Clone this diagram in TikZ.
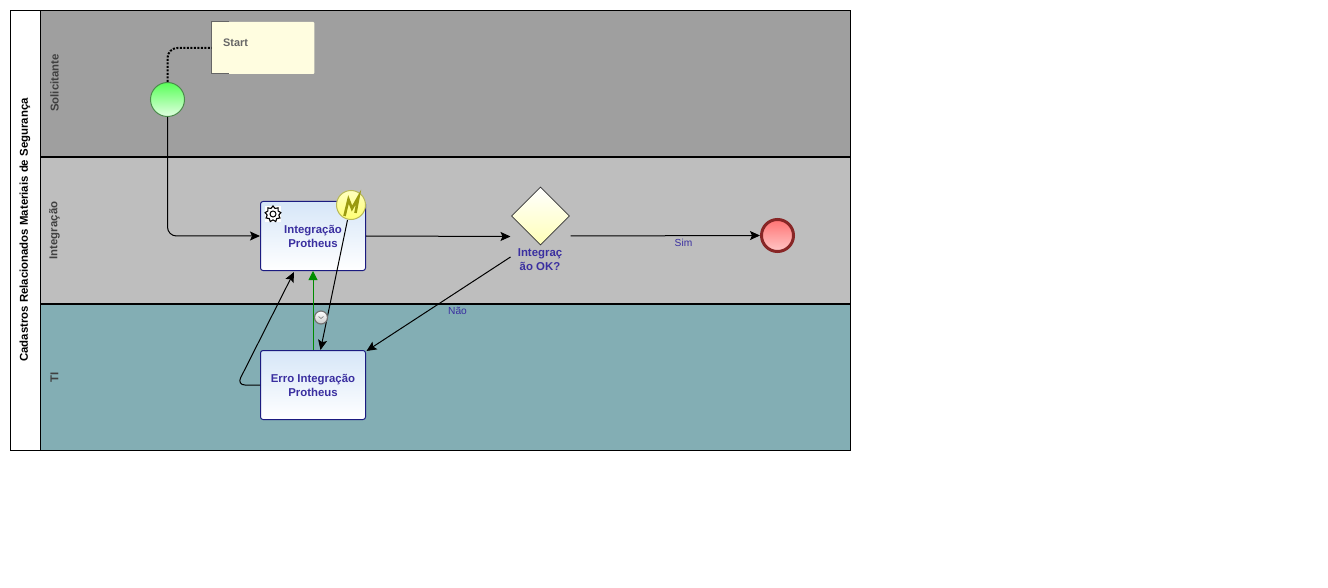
\documentclass[tikz,border=0pt]{standalone}
\usepackage{fontspec}
\setmainfont{Liberation Sans}
\usetikzlibrary{arrows.meta,shapes.geometric}
\definecolor{laneA}{HTML}{9F9F9F}
\definecolor{laneB}{HTML}{BEBEBE}
\definecolor{laneC}{HTML}{83AEB4}
\definecolor{taskborder}{HTML}{1B1B80}
\definecolor{tasktop}{HTML}{D6E6F8}
\definecolor{tasktxt}{HTML}{3A2FA0}
\definecolor{boltcol}{HTML}{9A9A10}
\newcommand{\dropline}[1]{\raisebox{-1pt}{#1}}
\tikzset{
  x=1pt,y=-1pt,
  lanebox/.style={draw=black,line width=.9pt},
  lanelabel/.style={rotate=90,font=\bfseries\fontsize{11.4}{13}\selectfont,text=#1},
  task/.style={draw=taskborder,line width=1pt,rounded corners=2.5pt,minimum width=105pt,minimum height=69pt,top color=tasktop,bottom color=white,inner sep=0pt,align=center,font=\bfseries\fontsize{11.4}{14}\selectfont,text=tasktxt},
  flow/.style={draw=black,line width=1pt,-{Stealth[length=10pt,width=9pt,inset=2pt]},rounded corners=9pt},
  edgelabel/.style={font=\fontsize{10.2}{12}\selectfont,text=tasktxt,inner sep=0pt},
}
\begin{document}
\begin{tikzpicture}
\useasboundingbox (0,0) rectangle (1328,588);
\fill[white] (0,0) rectangle (1328,588);
% lanes
\fill[laneA] (40.5,10.5) rectangle (850.5,157);
\fill[laneB] (40.5,157) rectangle (850.5,304);
\fill[laneC] (40.5,304) rectangle (850.5,450.5);
\draw[lanebox] (10.5,10.5) rectangle (850.5,450.5);
\draw[lanebox] (40.5,10.5) -- (40.5,450.5);
\draw[black,line width=2pt] (40.5,157) -- (850.5,157);
\draw[black,line width=2pt] (40.5,304) -- (850.5,304);
\node[lanelabel=black] (pool) at (25,230) {Cadastros Relacionados Materiais de Segurança};
\node[lanelabel=black!75] (l1) at (54.5,83) {Solicitante};
\node[lanelabel=black!75] (l2) at (54.5,230.5) {Integração};
\node[lanelabel=black!75] (l3) at (54.5,377) {TI};
% annotation
\node[fill=yellow!12!white,minimum width=102.5pt,minimum height=52pt,inner sep=0pt,rounded corners=1pt] (note) at (263,48) {};
\draw[black!60,line width=1pt] (229,22) -- (211.5,22) -- (211.5,74) -- (229,74);
\node[font=\bfseries\fontsize{10.9}{12}\selectfont,text=black!60,inner sep=0pt,anchor=west] (notetxt) at (223,42.5) {Start};
% start event
\node[circle,draw=green!35!black!70,line width=1pt,minimum size=34pt,inner sep=0pt,top color=green!65!white,bottom color=green!12!white] (start) at (167.5,99.5) {};
% tasks
\node[task] (t1) at (313,236) {\dropline{Integração}\\\dropline{Protheus}};
\node[task] (t2) at (313,385) {\dropline{Erro Integração}\\\dropline{Protheus}};
% gear
\fill[white] (265,206) rectangle (281,222);
\node[star,star points=9,star point ratio=1.35,draw=black,line width=1.1pt,minimum size=16pt,inner sep=0pt,fill=white] (gear) at (273,214) {};
\node[circle,draw=black,line width=1pt,minimum size=6pt,inner sep=0pt,fill=white] (gearhub) at (273,214) {};
% gateway
\node[diamond,draw=black!80,line width=.7pt,minimum width=58pt,minimum height=58pt,inner sep=0pt,top color=white,bottom color=yellow!28!white] (gw) at (540.5,216) {};
\node[inner sep=0pt,align=center,font=\bfseries\fontsize{11.4}{14}\selectfont,text=tasktxt] (gwl) at (540,259.5) {Integraç\\ão OK?};
% end event
\node[circle,draw=red!45!black!85,line width=3pt,minimum size=32pt,inner sep=0pt,top color=red!55!white,bottom color=red!22!white] (end) at (777.5,235.5) {};
% connector ends
\coordinate (gwin) at (510.5,236.5);
\coordinate (gwout) at (570.5,236);
\coordinate (gwno) at (510.5,257);
\coordinate (t2ne) at (366.5,351);
\coordinate (t1in) at (294,272);
\coordinate (bout) at (347.5,220);
\coordinate (t2top) at (320.5,350);
\coordinate (c1) at (167.5,48);
\coordinate (c2) at (167.5,236);
\coordinate (c3) at (237,385);
% connectors
\draw[black,line width=2pt,dash pattern=on 2pt off 1.5pt,rounded corners=10pt] (start.north) -- (c1) -- (note.west |- c1);
\draw[flow] (start.south) -- (c2) -- (t1.west);
\draw[flow] (t1.east) -- (gwin);
\draw[flow] (gwout) -- (end.west);
\draw[flow] (gwno) -- (t2ne);
\draw[flow,rounded corners=8pt] (t2.west) -- (c3) -- (t1in);
\draw[flow] (bout) -- (t2top);
\draw[draw=green!55!black,line width=1pt,-{Stealth[length=9pt,width=9pt,inset=0pt]}] (t2.north) -- (t1.south);
% boundary event
\node[circle,draw=boltcol!70,line width=1pt,minimum size=29pt,inner sep=0pt,top color=yellow!25!white,bottom color=yellow!55!white] (bev) at (351,205) {};
\draw[boltcol,line width=2.6pt,line join=miter] (344.5,216) -- (348.5,199.5) -- (352,208.5) -- (358.5,197) -- (355.5,213);
% clock
\node[circle,draw=black!55,line width=1.2pt,minimum size=13pt,inner sep=0pt,top color=white,bottom color=black!20] (clock) at (321,317.5) {};
\draw[black!55,line width=.6pt] (318.5,316.5) -- (321,318.5) -- (323.5,316.5);
% labels
\node[edgelabel] (sim) at (683.5,242.5) {Sim};
\node[edgelabel] (nao) at (457.5,310.5) {Não};
\end{tikzpicture}
\end{document}
